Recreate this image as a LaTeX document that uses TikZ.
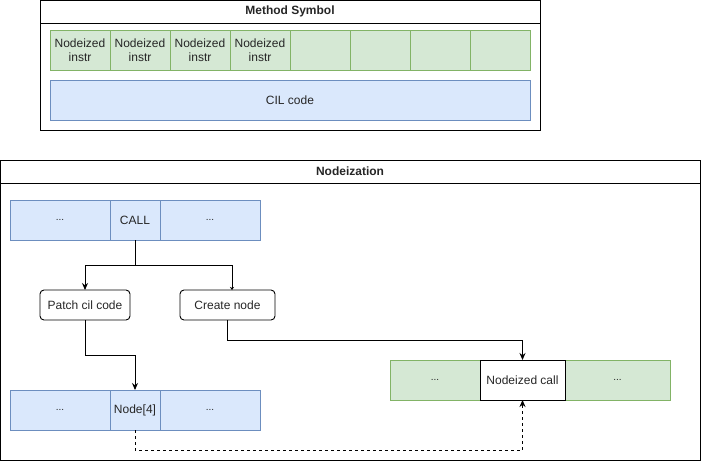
\documentclass[tikz,border=0pt]{standalone}
\usepackage{fontspec}
\setmainfont{Liberation Sans}
\usepackage{tikz}
\usetikzlibrary{positioning, arrows.meta, calc}
\definecolor{blueFill}{HTML}{DAE8FC}
\definecolor{blueLine}{HTML}{6C8EBF}
\definecolor{greenFill}{HTML}{D5E8D4}
\definecolor{greenLine}{HTML}{82B366}
\tikzset{
	>={Stealth[length=7pt,width=6pt]},
	every node/.style={font=\fontsize{12}{14}\selectfont, text=black!85},
	cell/.style={draw, inner sep=0pt, outer sep=0pt, minimum height=40pt, align=center},
	bcell/.style={cell, fill=blueFill, draw=blueLine},
	gcell/.style={cell, fill=greenFill, draw=greenLine},
	proc/.style={draw=black, rounded corners=4pt, inner sep=0pt, outer sep=0pt, minimum height=30pt},
	frame/.style={draw, line width=1pt},
	heading/.style={font=\fontsize{12}{14}\selectfont\bfseries},
	dots/.style={font=\fontsize{10}{10}\selectfont},
}
\begin{document}
\begin{tikzpicture}[x=1pt, y=-1pt, line width=0.9pt]
			\useasboundingbox (0,0) rectangle (701,461);
			% method symbol
			\draw[frame] (40.5,0.5) rectangle (540.5,130.5);
			\draw[frame] (40.5,23) -- (540.5,23);
			\node[heading] (msTitle) at (290,11.5) {Method Symbol};
			\node[gcell, minimum width=60pt, anchor=north west] (n1) at (50,30) {Nodeized\\instr};
			\node[gcell, minimum width=60pt, right=0pt of n1] (n2) {Nodeized\\instr};
			\node[gcell, minimum width=60pt, right=0pt of n2] (n3) {Nodeized\\instr};
			\node[gcell, minimum width=60pt, right=0pt of n3] (n4) {Nodeized\\instr};
			\node[gcell, minimum width=60pt, right=0pt of n4] (n5) {};
			\node[gcell, minimum width=60pt, right=0pt of n5] (n6) {};
			\node[gcell, minimum width=60pt, right=0pt of n6] (n7) {};
			\node[gcell, minimum width=60pt, right=0pt of n7] (n8) {};
			\node[bcell, minimum width=480pt, anchor=north west] (cil) at (50,80) {CIL code};
			
			% nodeization
			\draw[frame] (0.5,160.5) rectangle (700.5,460.5);
			\draw[frame] (0.5,183) -- (700.5,183);
			\node[heading] (ndTitle) at (350,171.5) {Nodeization};
			\node[bcell, minimum width=100pt, anchor=north west, dots] (pre) at (10,200) {...};
			\node[bcell, minimum width=50pt, right=0pt of pre] (call) {CALL};
			\node[bcell, minimum width=100pt, right=0pt of call, dots] (post) {...};
			\node[proc, minimum width=90pt, anchor=north west] (patch) at (40,290) {Patch cil code};
			\node[proc, minimum width=95pt, anchor=north west] (create) at (180,290) {Create node};
			\node[bcell, minimum width=100pt, anchor=north west, dots] (pre2) at (10,390) {...};
			\node[bcell, minimum width=50pt, right=0pt of pre2] (node4) {Node[4]};
			\node[bcell, minimum width=100pt, right=0pt of node4, dots] (post2) {...};
			\node[gcell, minimum width=90pt, anchor=north west, dots] (gpre) at (390,360) {...};
			\node[cell, minimum width=85pt, fill=white, right=0pt of gpre] (ncall) {Nodeized call};
			\node[gcell, minimum width=105pt, right=0pt of ncall, dots] (gpost) {...};
			\draw[frame, draw=black] (ncall.north west) rectangle (ncall.south east);
			
			\coordinate (split) at ($(call.south)+(0,25)$);
			\draw[->] (call.south) -- (split) -| (patch.north);
			\draw[-{Stealth[length=3pt,width=4pt]}] (split) -| ($(create.north)+(4.5,0)$);
			\draw[->] (patch.south) |- ($(node4.north)+(0,-35)$) -- (node4.north);
			\draw[->] (create.south) |- ($(ncall.north)+(0,-20)$) -- (ncall.north);
			\draw[->, dash pattern=on 3pt off 3pt] (node4.south) |- ($(ncall.south)+(0,50)$) -- (ncall.south);
		\end{tikzpicture}
\end{document}
